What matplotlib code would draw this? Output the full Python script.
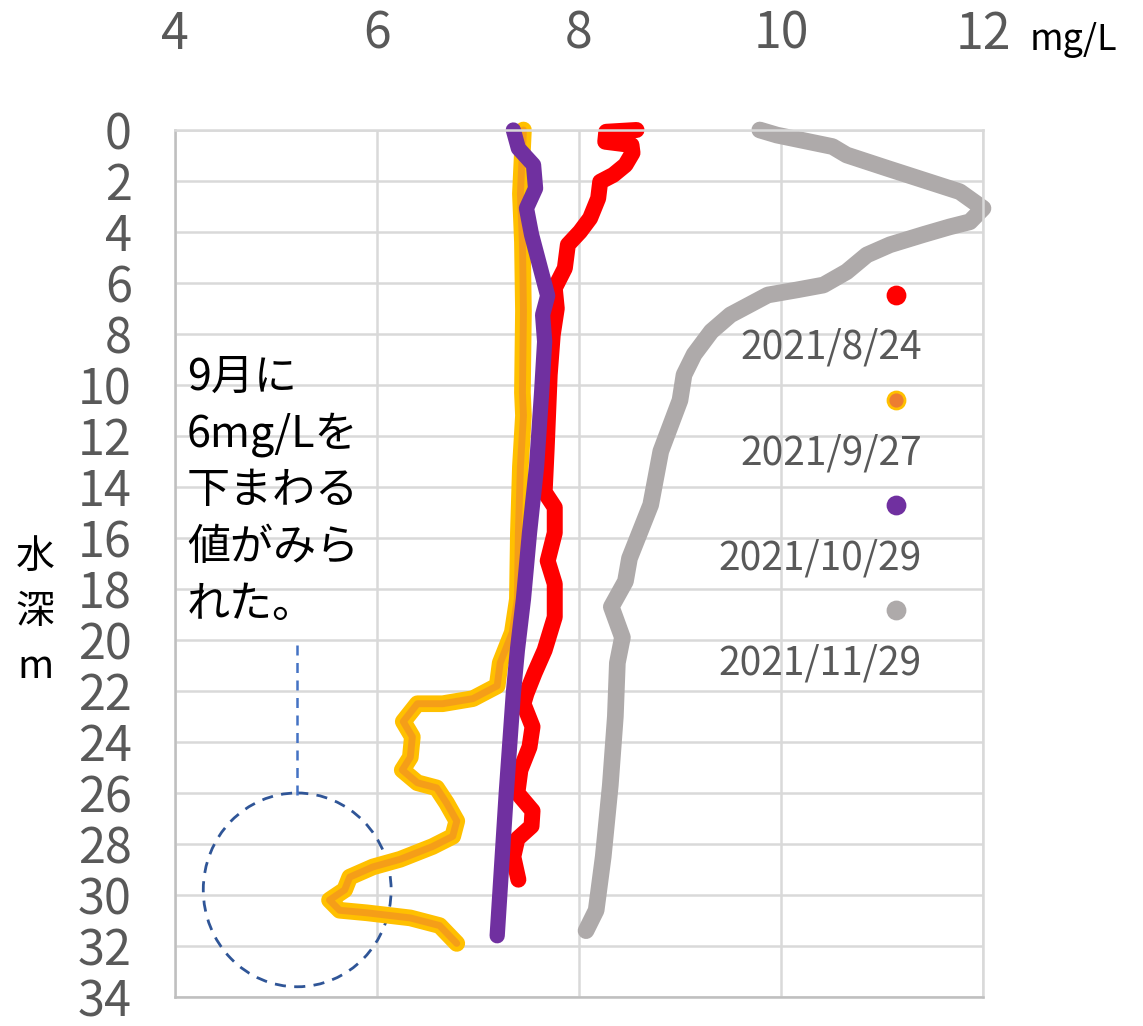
import matplotlib.pyplot as plt
from matplotlib.patches import Ellipse

plt.rcParams['font.family'] = ['Noto Sans CJK JP', 'DejaVu Sans']

# 溶存酸素の鉛直分布 (mg/L, 水深 m) — 図から読み取った値
do_0824 = [8.57, 8.27, 8.26, 8.52, 8.53, 8.46, 8.34, 8.21, 8.19, 8.11, 8.01, 7.89, 7.86,
           7.76, 7.78, 7.74, 7.71, 7.68, 7.66, 7.76, 7.76, 7.69, 7.76, 7.76, 7.66, 7.56,
           7.48, 7.45, 7.54, 7.51, 7.42, 7.39, 7.54, 7.53, 7.39, 7.35, 7.40]
dep_0824 = [0.0, 0.07, 0.46, 0.59, 0.9, 1.37, 1.76, 2.03, 2.68, 3.46, 3.99, 4.5, 5.42,
            6.2, 7.0, 8.04, 9.6, 12.5, 14.2, 14.8, 15.8, 16.9, 17.8, 19.1, 20.4, 21.3,
            22.1, 22.5, 23.4, 24.2, 25.1, 26.0, 26.7, 27.3, 27.8, 28.5, 29.4]

do_0927 = [7.45, 7.42, 7.44, 7.45, 7.44, 7.45, 7.42, 7.40, 7.39, 7.34, 7.22, 7.19, 6.95,
           6.65, 6.40, 6.26, 6.35, 6.33, 6.25, 6.40, 6.59, 6.69, 6.79, 6.75, 6.55, 6.23,
           5.96, 5.73, 5.68, 5.53, 5.63, 5.90, 6.33, 6.62, 6.79]
dep_0927 = [0.0, 2.5, 4.4, 7.1, 10.3, 11.2, 13.2, 15.8, 18.4, 19.7, 20.9, 21.8, 22.3,
            22.5, 22.5, 23.2, 23.8, 24.6, 25.1, 25.6, 25.8, 26.4, 27.1, 27.7, 28.1, 28.6,
            28.9, 29.3, 29.8, 30.2, 30.6, 30.7, 30.9, 31.2, 31.9]

do_1029 = [7.35, 7.40, 7.55, 7.57, 7.48, 7.53, 7.59, 7.69, 7.64, 7.66, 7.63, 7.58, 7.51,
           7.45, 7.39, 7.35, 7.28, 7.19]
dep_1029 = [0.0, 0.72, 1.37, 2.29, 3.07, 4.1, 5.0, 6.5, 7.25, 8.3, 10.3, 13.2, 15.8,
            18.4, 20.4, 22.1, 26.0, 31.6]

do_1129 = [9.79, 9.96, 10.51, 10.65, 11.05, 11.41, 11.77, 12.0, 11.87, 11.67, 11.41, 11.08,
           10.85, 10.65, 10.42, 10.16, 9.87, 9.50, 9.31, 9.14, 9.04, 9.00, 8.81, 8.71, 8.50,
           8.46, 8.32, 8.43, 8.38, 8.36, 8.31, 8.24, 8.17, 8.07]
dep_1129 = [0.0, 0.2, 0.65, 0.98, 1.5, 1.96, 2.42, 3.07, 3.6, 3.8, 4.1, 4.5, 4.9, 5.56,
            6.08, 6.27, 6.47, 7.25, 7.9, 8.8, 9.6, 10.6, 12.6, 14.7, 16.8, 17.7, 18.7,
            19.9, 20.9, 23.0, 25.7, 28.5, 30.6, 31.4]

labels = ["2021/8/24", "2021/9/27", "2021/10/29", "2021/11/29"]
x_ticks = [4, 6, 8, 10, 12]
y_ticks = list(range(0, 35, 2))
note_lines = ["9月に", "6mg/Lを", "下まわる", "値がみら", "れた。"]

GRAY_TXT = "#595959"
GRID = "#D9D9D9"

fig = plt.figure(figsize=(11.43, 10.26), dpi=100)
ax = fig.add_axes([0.1531, 0.0283, 0.7069, 0.845])

kw = dict(solid_capstyle="round", solid_joinstyle="round", clip_on=False)
ax.plot(do_0824, dep_0824, color="#FF0000", lw=11.5, **kw)
ax.plot(do_0927, dep_0927, color="#FFC000", lw=12, **kw)
ax.plot(do_0927, dep_0927, color="#ED7D31", lw=5, alpha=0.5, **kw)
ax.plot(do_1029, dep_1029, color="#7030A0", lw=11, **kw)
ax.plot(do_1129, dep_1129, color="#AEAAAA", lw=12, **kw)

ax.set_xlim(4, 12)
ax.set_ylim(34, 0)
ax.set_xticks(x_ticks)
ax.set_yticks(y_ticks)
ax.xaxis.tick_top()
ax.tick_params(axis="x", length=0, pad=50, labelsize=36, labelcolor=GRAY_TXT)
ax.tick_params(axis="y", length=0, pad=31, labelsize=35, labelcolor=GRAY_TXT)
ax.grid(True, color=GRID, lw=1.8)
ax.set_axisbelow(True)
for s in ax.spines.values():
    s.set_color(GRID)
    s.set_linewidth(1.8)
ax.spines["left"].set_color("#BFBFBF")
ax.spines["bottom"].set_color("#BFBFBF")

# 凡例 (マーカーの下にラベル)
leg_cols = [("#FF0000", "#FF0000"), ("#ED7D31", "#FFC000"), ("#7030A0", "#7030A0"),
            ("#AEAAAA", "#AEAAAA")]
for i, (lab, (fc, ec)) in enumerate(zip(labels, leg_cols)):
    ym = 0.810 - i * 0.1213
    ax.scatter([0.892], [ym], s=150, color=fc, edgecolors=ec, linewidths=2,
               transform=ax.transAxes, clip_on=False, zorder=5)
    ax.text(0.9245, ym - 0.0614, lab, transform=ax.transAxes, ha="right", va="center",
            fontsize=28, color=GRAY_TXT)

# 注記
for i, line in enumerate(note_lines):
    ax.text(4.12, 9.7 + i * 2.23, line, ha="left", va="center", fontsize=31,
            color="black")
ax.plot([5.21, 5.21], [20.2, 26.1], color="#4472C4", lw=1.8, ls=(0, (4, 3)))
ax.add_patch(Ellipse((5.21, 29.8), 1.86, 7.6, fill=False, edgecolor="#2F5597",
                     lw=2, ls=(0, (4, 3))))

fig.text(1030 / 1143, 1 - 40 / 1026, "mg/L", fontsize=26, ha="left", va="center",
         color="black")
fig.text(35 / 1143, 1 - 612 / 1026, "水\n深\nm", fontsize=28, ha="center", va="center",
         linespacing=1.5, color="black")

fig.savefig("out.png", dpi=100)
